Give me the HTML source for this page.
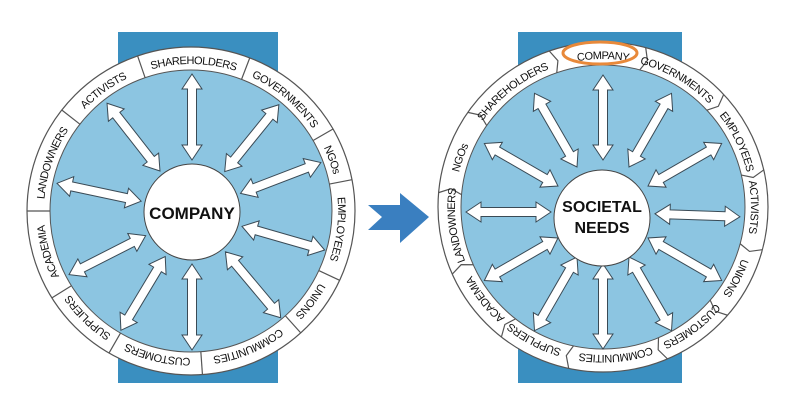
<!DOCTYPE html>
<html><head><meta charset="utf-8"><style>html,body{margin:0;padding:0;background:#fff}svg{display:block}</style></head>
<body>
<svg width="800" height="405" viewBox="0 0 800 405" xmlns="http://www.w3.org/2000/svg" font-family="Liberation Sans, sans-serif">
<defs>
<polygon id="arrL" points="0,-138 10,-123 4.5,-123 4.5,-67 10,-67 0,-52 -10,-67 -4.5,-67 -4.5,-123 -10,-123" fill="#fff" stroke="#3a4a55" stroke-width="1"/>
<polygon id="arrR" points="0,-137 10,-122 4.5,-122 4.5,-67 10,-67 0,-52 -10,-67 -4.5,-67 -4.5,-122 -10,-122" fill="#fff" stroke="#3a4a55" stroke-width="1"/>
<path id="pL" d="M191,64 A147,147 0 1 1 191,358 A147,147 0 1 1 191,64 A147,147 0 1 1 191,358 A147,147 0 1 1 191,64"/>
<path id="pR" d="M603,59 A148,148 0 1 1 603,355 A148,148 0 1 1 603,59 A148,148 0 1 1 603,355 A148,148 0 1 1 603,59"/>
</defs>
<!-- LEFT -->
<rect x="118" y="32" width="160" height="351" fill="#3a8fc0"/>
<circle cx="191" cy="211" r="164" fill="#fff" stroke="#555" stroke-width="1.2"/>
<circle cx="191" cy="211" r="141" fill="#8cc5e1" stroke="#555" stroke-width="1"/>
<g stroke="#555" stroke-width="1.2" transform="translate(191,211)">
<line x1="0" y1="-141" x2="0" y2="-164" transform="rotate(-19)"/>
<line x1="0" y1="-141" x2="0" y2="-164" transform="rotate(21)"/>
<line x1="0" y1="-141" x2="0" y2="-164" transform="rotate(60)"/>
<line x1="0" y1="-141" x2="0" y2="-164" transform="rotate(79)"/>
<line x1="0" y1="-141" x2="0" y2="-164" transform="rotate(115)"/>
<line x1="0" y1="-141" x2="0" y2="-164" transform="rotate(138)"/>
<line x1="0" y1="-141" x2="0" y2="-164" transform="rotate(176)"/>
<line x1="0" y1="-141" x2="0" y2="-164" transform="rotate(210)"/>
<line x1="0" y1="-141" x2="0" y2="-164" transform="rotate(238)"/>
<line x1="0" y1="-141" x2="0" y2="-164" transform="rotate(270)"/>
<line x1="0" y1="-141" x2="0" y2="-164" transform="rotate(308)"/>
</g>
<g transform="translate(192,212)">
<use href="#arrL" transform="rotate(0)"/>
<use href="#arrL" transform="rotate(39)"/>
<use href="#arrL" transform="rotate(69)"/>
<use href="#arrL" transform="rotate(106)"/>
<use href="#arrL" transform="rotate(140)"/>
<use href="#arrL" transform="rotate(180)"/>
<use href="#arrL" transform="rotate(211)"/>
<use href="#arrL" transform="rotate(243)"/>
<use href="#arrL" transform="rotate(282)"/>
<use href="#arrL" transform="rotate(322)"/>
</g>
<circle cx="192" cy="212" r="48" fill="#fff" stroke="#444" stroke-width="1"/>
<text x="192" y="219" font-size="17" font-weight="bold" text-anchor="middle" fill="#111">COMPANY</text>
<g font-size="11" letter-spacing="-0.5" fill="#111" text-anchor="middle">
<text><textPath href="#pL" startOffset="50.14%">SHAREHOLDERS</textPath></text>
<text><textPath href="#pL" startOffset="55.56%">GOVERNMENTS</textPath></text>
<text><textPath href="#pL" startOffset="59.72%">NGOs</textPath></text>
<text><textPath href="#pL" startOffset="63.47%">EMPLOYEES</textPath></text>
<text><textPath href="#pL" startOffset="67.64%">UNIONS</textPath></text>
<text><textPath href="#pL" startOffset="71.81%">COMMUNITIES</textPath></text>
<text><textPath href="#pL" startOffset="76.81%">CUSTOMERS</textPath></text>
<text><textPath href="#pL" startOffset="81.11%">SUPPLIERS</textPath></text>
<text><textPath href="#pL" startOffset="85.28%">ACADEMIA</textPath></text>
<text><textPath href="#pL" startOffset="90.14%">LANDOWNERS</textPath></text>
<text><textPath href="#pL" startOffset="95%">ACTIVISTS</textPath></text>
</g>
<!-- ARROW -->
<polygon points="368,205 400,205 400,193 429,217 400,243 400,230 368,230 382,217" fill="#3a7fc0"/>
<!-- RIGHT -->
<rect x="518" y="32" width="164" height="351" fill="#3a8fc0"/>
<circle cx="603" cy="207" r="165" fill="#fff" stroke="#555" stroke-width="1.2"/>
<circle cx="603" cy="207" r="142" fill="#8cc5e1" stroke="#555" stroke-width="1"/>
<g stroke="#555" stroke-width="1.2" fill="none" transform="translate(603,207)">
<polyline points="0,-142 5,-153 0,-165" transform="rotate(15)"/>
<polyline points="0,-142 5,-153 0,-165" transform="rotate(47)"/>
<polyline points="0,-142 5,-153 0,-165" transform="rotate(77)"/>
<polyline points="0,-142 5,-153 0,-165" transform="rotate(105)"/>
<polyline points="0,-142 5,-153 0,-165" transform="rotate(131)"/>
<polyline points="0,-142 5,-153 0,-165" transform="rotate(157)"/>
<polyline points="0,-142 5,-153 0,-165" transform="rotate(192)"/>
<polyline points="0,-142 5,-153 0,-165" transform="rotate(218)"/>
<polyline points="0,-142 5,-153 0,-165" transform="rotate(246)"/>
<polyline points="0,-142 5,-153 0,-165" transform="rotate(275)"/>
<polyline points="0,-142 5,-153 0,-165" transform="rotate(305)"/>
<polyline points="0,-142 5,-153 0,-165" transform="rotate(341)"/>
</g>
<g transform="translate(603,212)">
<use href="#arrR" transform="rotate(0)"/>
<use href="#arrR" transform="rotate(30)"/>
<use href="#arrR" transform="rotate(60)"/>
<use href="#arrR" transform="rotate(92)"/>
<use href="#arrR" transform="rotate(120)"/>
<use href="#arrR" transform="rotate(150)"/>
<use href="#arrR" transform="rotate(180)"/>
<use href="#arrR" transform="rotate(210)"/>
<use href="#arrR" transform="rotate(240)"/>
<use href="#arrR" transform="rotate(270)"/>
<use href="#arrR" transform="rotate(300)"/>
<use href="#arrR" transform="rotate(330)"/>
</g>
<circle cx="602" cy="218" r="48" fill="#fff" stroke="#444" stroke-width="1"/>
<text x="602" y="212" font-size="16" font-weight="bold" text-anchor="middle" fill="#111">SOCIETAL</text>
<text x="602" y="233" font-size="16" font-weight="bold" text-anchor="middle" fill="#111">NEEDS</text>
<g font-size="11" letter-spacing="-0.5" fill="#111" text-anchor="middle">
<text><textPath href="#pR" startOffset="50%">COMPANY</textPath></text>
<text><textPath href="#pR" startOffset="54.17%">GOVERNMENTS</textPath></text>
<text><textPath href="#pR" startOffset="58.89%">EMPLOYEES</textPath></text>
<text><textPath href="#pR" startOffset="62.5%">ACTIVISTS</textPath></text>
<text><textPath href="#pR" startOffset="66.4%">UNIONS</textPath></text>
<text><textPath href="#pR" startOffset="69.9%">CUSTOMERS</textPath></text>
<text><textPath href="#pR" startOffset="74.3%">COMMUNITIES</textPath></text>
<text><textPath href="#pR" startOffset="78.8%">SUPPLIERS</textPath></text>
<text><textPath href="#pR" startOffset="82.2%">ACADEMIA</textPath></text>
<text><textPath href="#pR" startOffset="86.5%">LANDOWNERS</textPath></text>
<text><textPath href="#pR" startOffset="90.14%">NGOs</textPath></text>
<text><textPath href="#pR" startOffset="94.72%">SHAREHOLDERS</textPath></text>
</g>
<ellipse cx="600" cy="53" rx="37" ry="11" fill="none" stroke="#e8893a" stroke-width="3"/>
</svg>
</body></html>
